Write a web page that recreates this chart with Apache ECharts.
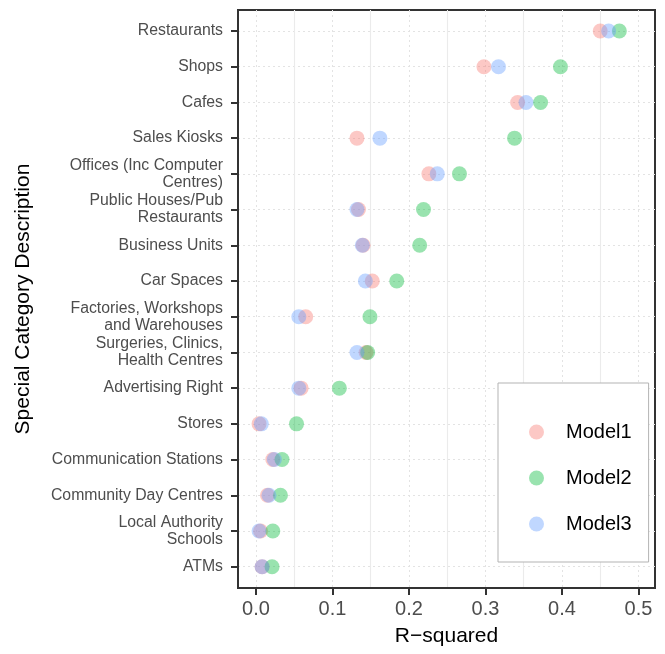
<!DOCTYPE html>
<html>
<head>
<meta charset="utf-8">
<script src="https://cdn.jsdelivr.net/npm/echarts@6/dist/echarts.min.js"></script>
<style>
  html, body { margin: 0; padding: 0; background: #fff; }
  #chart { width: 665px; height: 654px; }
</style>
</head>
<body>
<div id="chart"></div>
<script>
// ---- data ----
var categories = [
  'Restaurants',
  'Shops',
  'Cafes',
  'Sales Kiosks',
  'Offices (Inc Computer\nCentres)',
  'Public Houses/Pub\nRestaurants',
  'Business Units',
  'Car Spaces',
  'Factories, Workshops\nand Warehouses',
  'Surgeries, Clinics,\nHealth Centres',
  'Advertising Right',
  'Stores',
  'Communication Stations',
  'Community Day Centres',
  'Local Authority\nSchools',
  'ATMs'
];
var model1 = [0.450, 0.298, 0.342, 0.132, 0.226, 0.134, 0.140, 0.152, 0.065, 0.144, 0.059, 0.004, 0.022, 0.015, 0.006, 0.008];
var model2 = [0.475, 0.398, 0.372, 0.338, 0.266, 0.219, 0.214, 0.184, 0.149, 0.146, 0.109, 0.053, 0.034, 0.032, 0.022, 0.021];
var model3 = [0.461, 0.317, 0.353, 0.162, 0.237, 0.132, 0.139, 0.143, 0.056, 0.132, 0.056, 0.007, 0.024, 0.017, 0.004, 0.008];
var seriesNames = ['Model1', 'Model2', 'Model3'];
var xMajorTicks = [0, 0.1, 0.2, 0.3, 0.4, 0.5];
var xMinorTicks = [0.05, 0.15, 0.25, 0.35, 0.45];

var colors = ['rgba(248,118,109,0.5)', 'rgba(0,186,56,0.5)', 'rgba(97,156,255,0.5)'];
var FONT = '"Liberation Sans", Arial, Helvetica, sans-serif';

var catIdx = categories.map(function (_, i) { return i; });
function toPoints(vals) { return vals.map(function (v, i) { return [v, i]; }); }

var chart = echarts.init(document.getElementById('chart'), null, { renderer: 'canvas' });
var xMin = -0.0235, xMax = 0.5216;

var option = {
  animation: false,
  backgroundColor: '#ffffff',
  textStyle: { fontFamily: FONT },
  grid: {
    left: 238, right: 10, top: 10, bottom: 66,
    show: true, borderColor: '#333333', borderWidth: 2, backgroundColor: 'transparent'
  },
  legend: {
    orient: 'vertical',
    left: 498, top: 383,
    padding: [39, 17, 28, 31],
    itemGap: 26,
    itemWidth: 15, itemHeight: 15,
    icon: 'circle',
    backgroundColor: '#ffffff',
    borderColor: '#b3b3b3', borderWidth: 1,
    textStyle: { fontFamily: FONT, fontSize: 20, lineHeight: 20, color: '#000', padding: [0, 0, 0, 17] },
    data: seriesNames
  },
  xAxis: [
    {
      type: 'value', min: xMin, max: xMax, position: 'bottom',
      name: 'R\u2212squared', nameLocation: 'middle', nameGap: 38,
      nameTextStyle: { fontFamily: FONT, fontSize: 21, color: '#000' },
      axisLine: { show: true, onZero: false, lineStyle: { color: '#333', width: 2 } },
      axisTick: { show: true, length: 7, customValues: xMajorTicks, lineStyle: { color: '#333', width: 2 } },
      axisLabel: { customValues: xMajorTicks, margin: 11, fontFamily: FONT, fontSize: 20, color: '#4d4d4d',
        formatter: function (v) { return v.toFixed(1); } },
      splitLine: { show: true, lineStyle: { color: '#e3e3e3', type: [2, 3], width: 1 } }
    },
    {
      type: 'value', min: xMin, max: xMax, gridIndex: 0, position: 'bottom',
      axisLine: { show: false, onZero: false },
      axisTick: { show: false, customValues: xMinorTicks },
      axisLabel: { show: false, customValues: xMinorTicks },
      splitLine: { show: true, lineStyle: { color: '#ebebeb', type: 'solid', width: 1.1 } }
    }
  ],
  yAxis: {
    type: 'value', inverse: true, min: -0.588, max: 15.596, position: 'left',
    name: 'Special Category Description', nameLocation: 'middle', nameGap: 204.5, nameRotate: 90,
    nameTextStyle: { fontFamily: FONT, fontSize: 21, color: '#000' },
    axisLine: { show: true, onZero: false, lineStyle: { color: '#333', width: 2 } },
    axisTick: { show: true, length: 7, customValues: catIdx, lineStyle: { color: '#333', width: 2 } },
    axisLabel: { customValues: catIdx, margin: 15, fontFamily: FONT, fontSize: 15.8, lineHeight: 17, color: '#4d4d4d', align: 'right',
      padding: [2, 0, 0, 0],
      formatter: function (v) { return categories[Math.round(v)]; } },
    splitLine: { show: true, lineStyle: { color: '#e3e3e3', type: [2, 3], width: 1 } }
  },
  series: [model1, model2, model3].map(function (vals, k) {
    return {
      name: seriesNames[k],
      type: 'scatter',
      xAxisIndex: 0,
      symbol: 'circle',
      symbolSize: 15,
      itemStyle: { color: colors[k] },
      emphasis: { disabled: true },
      data: toPoints(vals)
    };
  })
};
chart.setOption(option);
</script>
</body>
</html>
